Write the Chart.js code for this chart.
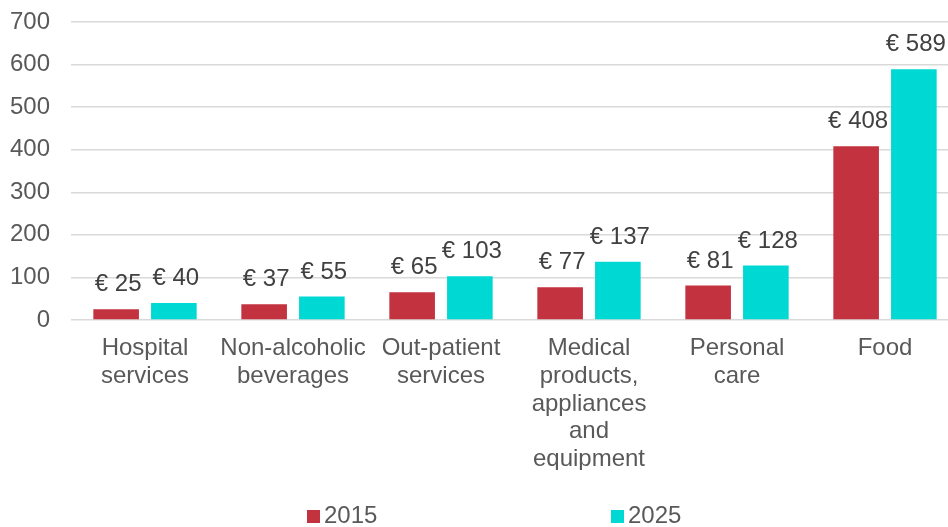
<!DOCTYPE html>
<html>
<head>
<meta charset="utf-8">
<script src="https://cdn.jsdelivr.net/npm/chart.js@4/dist/chart.umd.min.js"></script>
<style>
  html, body { margin:0; padding:0; background:#fff; overflow:hidden; }
  #wrap { position:relative; width:962px; height:527px; }
</style>
</head>
<body>
<div id="wrap"><canvas id="c"></canvas></div>
<script>
const categories = [
  ["Hospital","services"],
  ["Non-alcoholic","beverages"],
  ["Out-patient","services"],
  ["Medical","products,","appliances","and","equipment"],
  ["Personal","care"],
  ["Food"]
];
const seriesNames = ["2015", "2025"];
const values2015 = [25, 37, 65, 77, 81, 408];
const values2025 = [40, 55, 103, 137, 128, 589];
const yTicks = [0, 100, 200, 300, 400, 500, 600, 700];

const RED = '#C3323F';
const CYAN = '#00D9D3';
const FONT = '"Liberation Sans", Arial, sans-serif';

const valueLabels = {
  id: 'valueLabels',
  afterDatasetsDraw(chart) {
    const ctx = chart.ctx;
    ctx.save();
    ctx.font = '24px ' + FONT;
    ctx.fillStyle = '#404040';
    ctx.textAlign = 'center';
    ctx.textBaseline = 'alphabetic';
    chart.data.datasets.forEach((ds, di) => {
      const meta = chart.getDatasetMeta(di);
      meta.data.forEach((bar, i) => {
        ctx.fillText('€ ' + ds.data[i], bar.x + 2, bar.y - 18);
      });
    });
    ctx.restore();
  }
};

const customLegend = {
  id: 'customLegend',
  afterDraw(chart) {
    const ctx = chart.ctx;
    const xs = [307, 611];
    ctx.save();
    ctx.font = '24px ' + FONT;
    ctx.textBaseline = 'alphabetic';
    ctx.textAlign = 'left';
    chart.data.datasets.forEach((ds, di) => {
      ctx.fillStyle = ds.backgroundColor;
      ctx.fillRect(xs[di], 510, 13, 13);
      ctx.fillStyle = '#595959';
      ctx.fillText(ds.label, xs[di] + 17, 523);
    });
    ctx.restore();
  }
};

new Chart(document.getElementById('c'), {
  type: 'bar',
  data: {
    labels: categories,
    datasets: [
      { label: seriesNames[0], data: values2015, backgroundColor: RED,
        categoryPercentage: 0.78, barPercentage: 0.79 },
      { label: seriesNames[1], data: values2025, backgroundColor: CYAN,
        categoryPercentage: 0.78, barPercentage: 0.79 }
    ]
  },
  options: {
    responsive: true,
    maintainAspectRatio: false,
    animation: false,
    layout: { padding: { left: 10, right: 3, top: 22, bottom: 57 } },
    plugins: {
      legend: { display: false },
      tooltip: { enabled: false }
    },
    scales: {
      x: {
        grid: { display: false, drawTicks: false },
        border: { display: false },
        afterFit(axis) { axis.paddingLeft = 0; axis.paddingRight = 0; axis.height = 150; },
        ticks: {
          color: '#595959',
          font: { family: FONT, size: 24, lineHeight: 1.15 },
          padding: 15,
          maxRotation: 0,
          autoSkip: false
        }
      },
      y: {
        min: 0, max: 700,
        afterBuildTicks(axis) { axis.ticks = yTicks.map(v => ({ value: v })); },
        afterFit(axis) { axis.paddingTop = 0; axis.paddingBottom = 0; axis.width = 61; },
        grid: { color: '#D9D9D9', lineWidth: 1.5, drawTicks: false },
        border: { display: false },
        ticks: {
          color: '#595959',
          font: { family: FONT, size: 24 },
          padding: 21
        }
      }
    }
  },
  plugins: [valueLabels, customLegend]
});
</script>
</body>
</html>
